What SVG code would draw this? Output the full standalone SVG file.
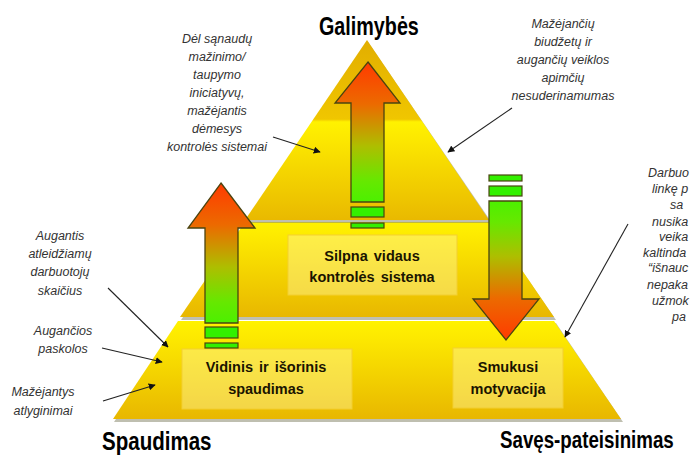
<svg xmlns="http://www.w3.org/2000/svg" width="690" height="459" viewBox="0 0 690 459">
<style>
.lbl{font-family:"Liberation Sans",Arial,sans-serif;font-style:italic;font-size:12.5px;fill:#333;text-anchor:middle}
.lblr{font-family:"Liberation Sans",Arial,sans-serif;font-style:italic;font-size:12.5px;fill:#333}
.box{font-family:"Liberation Sans",Arial,sans-serif;font-weight:bold;font-size:14.5px;fill:#1a1400;text-anchor:middle;word-spacing:2px}
.ttl{font-family:"Liberation Sans",Arial,sans-serif;font-weight:bold;fill:#000}
.inner{fill:#FFF59D;fill-opacity:0.45;stroke:#F3CF30;stroke-width:1}
.arr{stroke:#4a4410;stroke-width:1.3}
.bar{fill:#33F000;stroke:#4a4410;stroke-width:1.2}
.con{stroke:#222;stroke-width:1.1;fill:none;marker-end:url(#ah)}
.shadow{fill:#8a8a70;opacity:0.55}
</style>
<defs>
<marker id="ah" viewBox="0 0 10 10" refX="9" refY="5" markerWidth="7" markerHeight="7" orient="auto" markerUnits="userSpaceOnUse">
<path d="M0,0 L10,5 L0,10 z" fill="#111"/>
</marker>
<linearGradient id="gTop" x1="0" y1="40" x2="0" y2="220" gradientUnits="userSpaceOnUse">
<stop offset="0" stop-color="#E2AE00"/>
<stop offset="0.44" stop-color="#F0C600"/>
<stop offset="0.455" stop-color="#FFF200"/>
<stop offset="0.55" stop-color="#FCE800"/>
<stop offset="1" stop-color="#E9B900"/>
</linearGradient>
<linearGradient id="gMid" x1="0" y1="222" x2="0" y2="317" gradientUnits="userSpaceOnUse">
<stop offset="0" stop-color="#FFF200"/>
<stop offset="0.15" stop-color="#FDEA00"/>
<stop offset="1" stop-color="#E8B700"/>
</linearGradient>
<linearGradient id="gBot" x1="0" y1="321" x2="0" y2="419" gradientUnits="userSpaceOnUse">
<stop offset="0" stop-color="#FFF200"/>
<stop offset="0.15" stop-color="#FDEA00"/>
<stop offset="1" stop-color="#E8B700"/>
</linearGradient>
<linearGradient id="gUp" x1="0" y1="0" x2="0" y2="1">
<stop offset="0" stop-color="#FF3A00"/>
<stop offset="0.3" stop-color="#EC6A00"/>
<stop offset="0.6" stop-color="#AEBE00"/>
<stop offset="0.85" stop-color="#66E800"/>
<stop offset="1" stop-color="#4CF000"/>
</linearGradient>
<linearGradient id="gDown" x1="0" y1="1" x2="0" y2="0">
<stop offset="0" stop-color="#FF3A00"/>
<stop offset="0.3" stop-color="#EC6A00"/>
<stop offset="0.6" stop-color="#AEBE00"/>
<stop offset="0.85" stop-color="#66E800"/>
<stop offset="1" stop-color="#4CF000"/>
</linearGradient>
</defs>

<g id="pyramid">
<g id="tier-bottom">
<polygon class="shadow" points="179,323 556,323 623,422 114,422"/>
<polygon points="178,321 554,321 621,419 113,419" fill="url(#gBot)"/>
</g>
<g id="tier-middle">
<polygon class="shadow" points="246,224 490,224 556,320 181,320"/>
<polygon points="245,222 489,222 554,317 180,317" fill="url(#gMid)"/>
</g>
<g id="tier-top">
<polygon class="shadow" points="368,42 492,223 245,223"/>
<polygon points="367,40 489,220 245,220" fill="url(#gTop)"/>
</g>
</g>

<g id="box-silpna">
<rect class="inner" x="288" y="235" width="169" height="60"/>
<text class="box" x="372" y="261">Silpna vidaus</text>
<text class="box" x="372" y="282">kontrolės sistema</text>
</g>
<g id="box-vidinis">
<rect class="inner" x="182" y="349" width="170" height="60"/>
<text class="box" x="266" y="372">Vidinis ir išorinis</text>
<text class="box" x="266" y="394">spaudimas</text>
</g>
<g id="box-smukusi">
<rect class="inner" x="453" y="348" width="110" height="60"/>
<text class="box" x="508" y="372">Smukusi</text>
<text class="box" x="508" y="394">motyvacija</text>
</g>

<g id="arrow-left-up">
<path class="arr" fill="url(#gUp)" d="M221,183 L255,228 L238,228 L238,323 L205,323 L205,228 L188,228 Z"/>
<rect class="bar" x="205" y="327" width="33" height="11"/>
<rect class="bar" x="205" y="343" width="33" height="5"/>
</g>
<g id="arrow-middle-up">
<path class="arr" fill="url(#gUp)" d="M368,62 L400,103 L384,103 L384,202 L351,202 L351,103 L335,103 Z"/>
<rect class="bar" x="351" y="207" width="33" height="10"/>
<rect class="bar" x="351" y="223" width="33" height="5"/>
</g>
<g id="arrow-right-down">
<rect class="bar" x="489" y="175" width="33" height="6"/>
<rect class="bar" x="489" y="186" width="33" height="10"/>
<path class="arr" fill="url(#gDown)" d="M489,201 L522,201 L522,299 L539,299 L506,340 L473,299 L489,299 Z"/>
</g>

<g id="titles">
<text class="ttl" transform="translate(319,35) scale(0.79,1)" x="0" y="0" font-size="25">Galimybės</text>
<text class="ttl" transform="translate(102,450) scale(0.79,1)" x="0" y="0" font-size="26">Spaudimas</text>
<text class="ttl" transform="translate(500,448) scale(0.78,1)" x="0" y="0" font-size="24">Savęs-pateisinimas</text>
</g>

<g id="label-del">
<text class="lbl" x="217" y="43">Dėl sąnaudų</text>
<text class="lbl" x="217" y="61">mažinimo/</text>
<text class="lbl" x="217" y="79">taupymo</text>
<text class="lbl" x="217" y="97">iniciatyvų,</text>
<text class="lbl" x="217" y="115">mažėjantis</text>
<text class="lbl" x="217" y="133">dėmesys</text>
<text class="lbl" x="217" y="151">kontrolės sistemai</text>
</g>
<g id="label-mazejanciu">
<text class="lbl" x="563" y="28">Mažėjančių</text>
<text class="lbl" x="563" y="46">biudžetų ir</text>
<text class="lbl" x="563" y="64">augančių veiklos</text>
<text class="lbl" x="563" y="82">apimčių</text>
<text class="lbl" x="563" y="100">nesuderinamumas</text>
</g>
<g id="label-darbuo">
<text class="lblr" x="648" y="177">Darbuo</text>
<text class="lblr" x="652" y="193">linkę p</text>
<text class="lblr" x="670" y="209">sa</text>
<text class="lblr" x="652" y="226">nusika</text>
<text class="lblr" x="659" y="241">veika</text>
<text class="lblr" x="643" y="257">kaltinda</text>
<text class="lblr" x="648" y="272">“išnauc</text>
<text class="lblr" x="647" y="289">nepaka</text>
<text class="lblr" x="652" y="305">užmok</text>
<text class="lblr" x="672" y="321">pa</text>
</g>
<g id="label-augantis">
<text class="lbl" x="60" y="240">Augantis</text>
<text class="lbl" x="60" y="258">atleidžiamų</text>
<text class="lbl" x="60" y="276">darbuotojų</text>
<text class="lbl" x="60" y="295">skaičius</text>
</g>
<g id="label-augancios">
<text class="lbl" x="63" y="335">Augančios</text>
<text class="lbl" x="63" y="353">paskolos</text>
</g>
<g id="label-mazejantys">
<text class="lbl" x="43" y="396">Mažėjantys</text>
<text class="lbl" x="43" y="415">atlyginimai</text>
</g>

<g id="connectors">
<line class="con" x1="273" y1="137" x2="320" y2="152"/>
<line class="con" x1="512" y1="108" x2="448" y2="152"/>
<line class="con" x1="628" y1="224" x2="565" y2="337"/>
<line class="con" x1="108" y1="288" x2="168" y2="347"/>
<line class="con" x1="102" y1="348" x2="162" y2="362"/>
<line class="con" x1="103" y1="401" x2="155" y2="385"/>
</g>
</svg>
